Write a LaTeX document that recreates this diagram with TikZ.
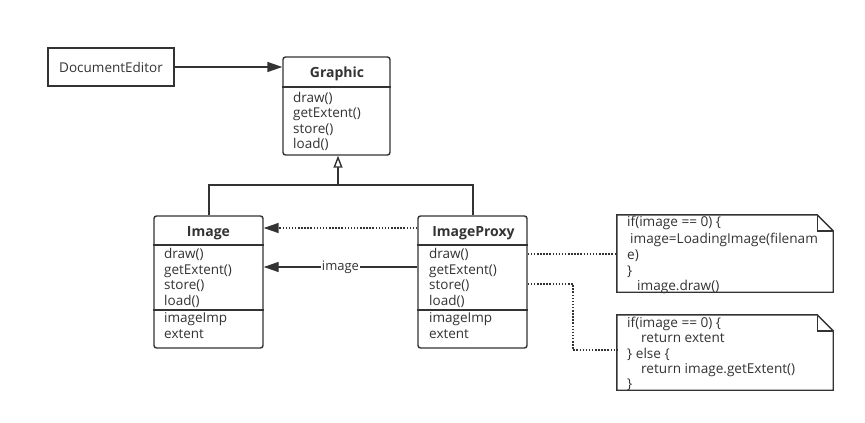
\documentclass[tikz,border=0pt]{standalone}
\usepackage{fontspec}
\setmainfont{Open Sans}
\usetikzlibrary{arrows.meta}
\definecolor{ink}{RGB}{51,51,51}
\tikzset{
  cls/.style={draw=ink, line width=1.4pt, rounded corners=2.5pt, inner sep=0pt, fill=white},
  plainbox/.style={draw=ink, line width=1.4pt, inner sep=0pt, fill=white},
  txt/.style={inner sep=0pt, anchor=base west, text=ink, font=\fontsize{13.5}{15}\selectfont},
  ntxt/.style={inner sep=0pt, anchor=base west, text=ink, font=\fontsize{13.6}{15}\selectfont},
  hdr/.style={inner sep=0pt, anchor=base, text=ink, font=\bfseries\fontsize{14}{15}\selectfont},
  sep/.style={draw=ink, line width=1.4pt},
  conn/.style={draw=ink, line width=1.4pt},
  dotconn/.style={draw=ink, line width=1.5pt, dash pattern=on 1.5pt off 1.6pt},
  filledtip/.style={-{Triangle[length=15pt,width=10pt]}},
  opentip/.style={-{Triangle[open,length=12pt,width=9pt,fill=white]}},
}
\begin{document}
\begin{tikzpicture}[x=1pt,y=-1pt]
\useasboundingbox (0,0) rectangle (865,423);

% DocumentEditor
\node[plainbox, minimum width=126pt, minimum height=38pt] (de) at (111,67) {};
\node[inner sep=0pt, text=ink, font=\fontsize{13.5}{15}\selectfont] (detxt) at (111,67) {DocumentEditor};

% Graphic
\node[cls, minimum width=107pt, minimum height=98pt] (graphic) at (336.5,106) {};
\draw[sep] (graphic.west |- 0,87) -- (graphic.east |- 0,87);
\node[hdr] (gh) at (337,77) {Graphic};
\node[txt] (g1) at (293,102) {draw()};
\node[txt] (g2) at (293,117.5) {getExtent()};
\node[txt] (g3) at (293,133) {store()};
\node[txt] (g4) at (293,148.5) {load()};

% Image
\node[cls, minimum width=109pt, minimum height=132pt] (image) at (208.5,282) {};
\draw[sep] (image.west |- 0,245) -- (image.east |- 0,245);
\draw[sep] (image.west |- 0,310) -- (image.east |- 0,310);
\node[hdr] (ih) at (208.5,236) {Image};
\node[txt] (i1) at (164,258) {draw()};
\node[txt] (i2) at (164,274) {getExtent()};
\node[txt] (i3) at (164,289.5) {store()};
\node[txt] (i4) at (164,305) {load()};
\node[txt] (i5) at (164,322) {imageImp};
\node[txt] (i6) at (164,338) {extent};

% ImageProxy
\node[cls, minimum width=109pt, minimum height=132pt] (proxy) at (472.5,282) {};
\draw[sep] (proxy.west |- 0,245) -- (proxy.east |- 0,245);
\draw[sep] (proxy.west |- 0,310) -- (proxy.east |- 0,310);
\node[hdr] (ph) at (473.5,236) {ImageProxy};
\node[txt] (p1) at (429,258) {draw()};
\node[txt] (p2) at (429,274) {getExtent()};
\node[txt] (p3) at (429,289.5) {store()};
\node[txt] (p4) at (429,305) {load()};
\node[txt] (p5) at (429,322) {imageImp};
\node[txt] (p6) at (429,338) {extent};

% Notes
\node[minimum width=216pt, minimum height=77pt, inner sep=0pt] (n1) at (725,253.5) {};
\draw[draw=ink, line width=1.4pt, fill=white]
  (n1.north west) -- ([xshift=-16pt]n1.north east) -- ([yshift=-16pt]n1.north east)
  -- (n1.south east) -- (n1.south west) -- cycle;
\draw[draw=ink, line width=1.4pt] ([xshift=-16pt]n1.north east) -- ([xshift=-16pt,yshift=-16pt]n1.north east) -- ([yshift=-16pt]n1.north east);
\node[ntxt] (n1a) at (627,226.5) {if(image == 0) \{};
\node[ntxt] (n1b) at (630,243) {image=LoadingImage(filenam};
\node[ntxt] (n1c) at (627,259) {e)};
\node[ntxt] (n1d) at (627,275) {\}};
\node[ntxt] (n1e) at (637,290.5) {image.draw()};

\node[minimum width=216pt, minimum height=75pt, inner sep=0pt] (n2) at (725,352.5) {};
\draw[draw=ink, line width=1.4pt, fill=white]
  (n2.north west) -- ([xshift=-16pt]n2.north east) -- ([yshift=-16pt]n2.north east)
  -- (n2.south east) -- (n2.south west) -- cycle;
\draw[draw=ink, line width=1.4pt] ([xshift=-16pt]n2.north east) -- ([xshift=-16pt,yshift=-16pt]n2.north east) -- ([yshift=-16pt]n2.north east);
\node[ntxt] (n2a) at (627,327.5) {if(image == 0) \{};
\node[ntxt] (n2b) at (641,342.5) {return extent};
\node[ntxt] (n2c) at (627,358) {\} else \{};
\node[ntxt] (n2d) at (641,373) {return image.getExtent()};
\node[ntxt] (n2e) at (627,388.5) {\}};

% Connectors
\draw[conn, filledtip] (de.east) -- (graphic.west |- de.east);

\coordinate (join) at (338,185);
\draw[conn] ([xshift=0.5pt]image.north) |- (join);
\draw[conn] ([xshift=0.5pt]proxy.north) |- (join);
\draw[conn, opentip] (join) -- (graphic.south -| join);

\draw[dotconn, filledtip] (proxy.west |- 0,228) -- (image.east |- 0,228);
\draw[conn, filledtip] (proxy.west |- 0,267) -- node[fill=white, inner sep=1pt, text=ink, font=\fontsize{13}{15}\selectfont] (lbl) {image} (image.east |- 0,267);

\coordinate (bend) at (573,284);
\draw[dotconn] (proxy.east |- 0,254) -- (n1.west |- 0,254);
\draw[dotconn] (proxy.east |- bend) -- (bend) |- (n2.west |- 0,350);
\end{tikzpicture}
\end{document}
